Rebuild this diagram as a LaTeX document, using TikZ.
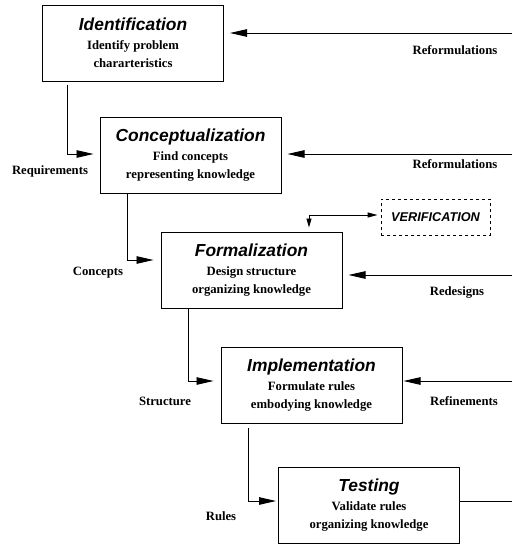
\documentclass[tikz,border=0pt]{standalone}
\usepackage{fontspec}
\setmainfont{Liberation Serif}
\newfontfamily\titlefont{Liberation Sans}
\usetikzlibrary{arrows.meta}
\begin{document}
\begin{tikzpicture}[x=1pt,y=-1pt,
  stagebox/.style={draw, line width=1pt, minimum width=181pt, minimum height=76pt, align=center, inner sep=0pt, font=\fontsize{12.7}{18}\selectfont\bfseries},
  lbl/.style={font=\fontsize{12.7}{15}\selectfont\bfseries, inner sep=0pt},
  flow/.style={line width=0.9pt, -{Triangle[length=17pt,width=7.5pt]}},
  small/.style={line width=0.9pt, {Triangle[length=9pt,width=5pt]}-{Triangle[length=10pt,width=5pt]}}
]
\useasboundingbox (0,0) rectangle (512,544);

\node[stagebox] (iden) at (133,43) {\makebox[0pt]{\fontsize{17.4}{20}\titlefont\bfseries\itshape Identification}\\[1pt] Identify problem\\ chararteristics};
\node[stagebox] (conc) at (190.5,155) {\makebox[0pt]{\fontsize{17.4}{20}\titlefont\bfseries\itshape Conceptualization}\\[1pt] Find concepts\\ representing knowledge};
\node[stagebox] (form) at (251.5,270) {\makebox[0pt]{\fontsize{17.4}{20}\titlefont\bfseries\itshape Formalization}\\[1pt] Design structure\\ organizing knowledge};
\node[stagebox] (impl) at (311.5,385) {\makebox[0pt]{\fontsize{17.4}{20}\titlefont\bfseries\itshape Implementation}\\[1pt] Formulate rules\\ embodying knowledge};
\node[stagebox] (test) at (369,505.5) {\makebox[0pt]{\fontsize{17.4}{20}\titlefont\bfseries\itshape Testing}\\[1pt] Validate rules\\ organizing knowledge};

\node[draw, dashed, line width=0.9pt, minimum width=109pt, minimum height=36pt, inner sep=0pt,
  font=\fontsize{12.7}{15}\titlefont\bfseries\itshape] (veri) at (435.5,217) {VERIFICATION};

% right-edge coordinates
\coordinate (r1) at (512,33);
\coordinate (r2) at (512,154);
\coordinate (r3) at (512,275);
\coordinate (r4) at (512,381);
\coordinate (r5) at (512,501);

% feedback arrows from the right
\draw[flow, shorten >=6pt] (r1) -- (r1 -| iden.east);
\draw[flow, shorten >=6pt] (r2) -- (r2 -| conc.east);
\draw[flow, shorten >=6pt] (r3) -- (r3 -| form.east);
\draw[flow, shorten >=1pt] (r4) -- (r4 -| impl.east);
\draw[line width=0.9pt] (test.east |- r5) -- (r5);

% forward flow
\coordinate (c1) at (67,154);
\coordinate (c2) at (127,260);
\coordinate (c3) at (188,381);
\coordinate (c4) at (248,501);
\draw[flow, shorten <=3pt, shorten >=6pt] (iden.south -| c1) |- (conc.west |- c1);
\draw[flow, shorten >=7pt] (conc.south -| c2) |- (form.west |- c2);
\draw[flow, shorten >=7pt] (form.south -| c3) |- (impl.west |- c3);
\draw[flow, shorten <=4pt, shorten >=2pt] (impl.south -| c4) |- (test.west |- c4);

% verification link
\coordinate (v1) at (309,215);
\draw[small, shorten <=4pt, shorten >=3pt] (form.north -| v1) |- (veri.west |- v1);

% labels
\node[lbl] (l1) at (455,50) {Reformulations};
\node[lbl] (l2) at (50,171) {Requirements};
\node[lbl] (l3) at (455,164) {Reformulations};
\node[lbl] (l4) at (98,273) {Concepts};
\node[lbl] (l5) at (457,292) {Redesigns};
\node[lbl] (l6) at (165,401) {Structure};
\node[lbl] (l7) at (464,401) {Refinements};
\node[lbl] (l8) at (221,516) {Rules};
\end{tikzpicture}
\end{document}
